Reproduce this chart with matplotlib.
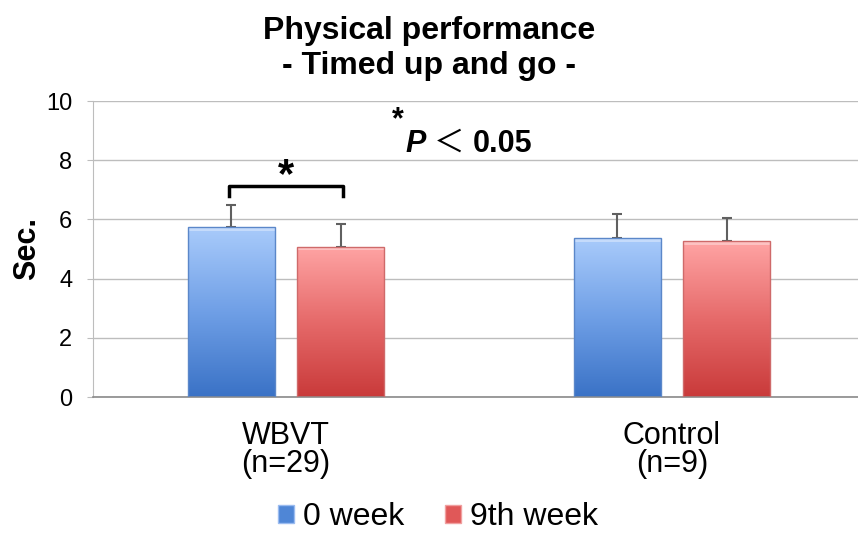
import numpy as np
import matplotlib
matplotlib.use("Agg")
import matplotlib.pyplot as plt
from matplotlib.colors import LinearSegmentedColormap
from matplotlib.patches import Patch

categories = ["WBVT\n(n=29)", "Control\n(n=9)"]
series_names = ["0 week", "9th week"]
week0 = [5.73, 5.37]
week0_err = [0.74, 0.81]
week9 = [5.07, 5.27]
week9_err = [0.77, 0.77]
yticks = [0, 2, 4, 6, 8, 10]

plt.rcParams['font.family'] = ['Liberation Sans', 'DejaVu Sans']

fig = plt.figure(figsize=(8.58, 5.37), dpi=100)
ax = fig.add_axes([93/858, 1-397/537, (858-93)/858, (397-101)/537])

x = np.arange(len(categories))
w = 0.225
off = 0.142

grads = [
    LinearSegmentedColormap.from_list("b", ["#3a72c6", "#6f9fe6", "#a9cbfb"]),
    LinearSegmentedColormap.from_list("r", ["#c93a3a", "#e66a6a", "#ffa4a4"]),
]
edgecols = ["#5b87c9", "#cf6a6a"]
solid = ["#4f86d6", "#e05858"]

ax.set_xlim(-0.5, -0.5 + 765/386)
ax.set_ylim(0, 10)

for vals, errs, o, cm, ec in [(week0, week0_err, -off, grads[0], edgecols[0]),
                              (week9, week9_err, off, grads[1], edgecols[1])]:
    bars = ax.bar(x + o, vals, w, color="none", edgecolor=ec, linewidth=1.0, zorder=3)
    ax.errorbar(x + o, vals, yerr=[np.zeros(len(errs)), errs], fmt="none",
                ecolor="#606060", elinewidth=1.5, capsize=3.5, capthick=1.5, zorder=2)
    for b in bars:
        x0, y0 = b.get_x(), b.get_y()
        bw, bh = b.get_width(), b.get_height()
        grad = np.linspace(0, 1, 256).reshape(-1, 1)
        im = ax.imshow(grad, cmap=cm, origin="lower", aspect="auto",
                       extent=[x0, x0 + bw, y0, y0 + bh], zorder=2.5)
        im.set_clip_path(b)
        ax.fill_between([x0, x0 + bw], y0 + bh - 0.12, y0 + bh, color="white",
                        alpha=0.35, zorder=2.6, linewidth=0)

ax.set_xlim(-0.5, -0.5 + 765/386)
ax.set_ylim(0, 10)

ax.set_yticks(yticks)
ax.set_yticklabels([str(t) for t in yticks], fontsize=17)
ax.set_xticks(x)
ax.set_xticklabels(categories, fontsize=22, linespacing=0.95)
ax.tick_params(axis="x", length=0, pad=17)
ax.tick_params(axis="y", length=4, color="#bdbdbd", pad=11)
ax.yaxis.grid(True, color="#bdbdbd", linewidth=1.0, zorder=0)
ax.set_axisbelow(True)
for s in ["top", "right"]:
    ax.spines[s].set_visible(False)
ax.spines["left"].set_color("#bdbdbd")
ax.spines["bottom"].set_color("#8a8a8a")
ax.spines["bottom"].set_linewidth(1.2)

ax.set_ylabel("Sec.", fontsize=22, fontweight="bold", labelpad=3)

# significance bracket
bx0, bx1 = x[0] - off - 0.006, x[0] + off + 0.006
ax.plot([bx0, bx0, bx1, bx1], [6.78, 7.12, 7.12, 6.78], color="black", lw=2.5,
        solid_joinstyle="round", zorder=4)
ax.text(x[0], 7.45, "*", ha="center", va="center", fontsize=30, fontweight="bold")

# p-value note
ax.text(0.29, 9.35, "*", ha="center", va="center", fontsize=22, fontweight="bold")
ax.text(0.31, 8.28, "P", ha="left", va="baseline", fontsize=22, fontweight="bold",
        style="italic")
ax.text(0.383, 8.28, "＜", ha="left", va="baseline", fontsize=22,
        family=["Noto Sans CJK JP", "DejaVu Sans"])
ax.text(0.485, 8.28, "0.05", ha="left", va="baseline", fontsize=22, fontweight="bold")

fig.text(0.5, 1 - 31/537, "Physical performance", ha="center", va="center",
         fontsize=23, fontweight="bold")
fig.text(0.5, 1 - 66/537, "- Timed up and go -", ha="center", va="center",
         fontsize=23, fontweight="bold")

handles = [Patch(facecolor=solid[0], edgecolor="#9bbcf0"),
           Patch(facecolor=solid[1], edgecolor="#f0a0a0")]
fig.legend(handles, series_names, loc="center", bbox_to_anchor=(0.5105, 1 - 517/537),
           ncol=2, frameon=False, fontsize=23, handlelength=0.5, handleheight=0.5,
           handletextpad=0.3, columnspacing=1.25)

fig.savefig("out.png", dpi=100)
